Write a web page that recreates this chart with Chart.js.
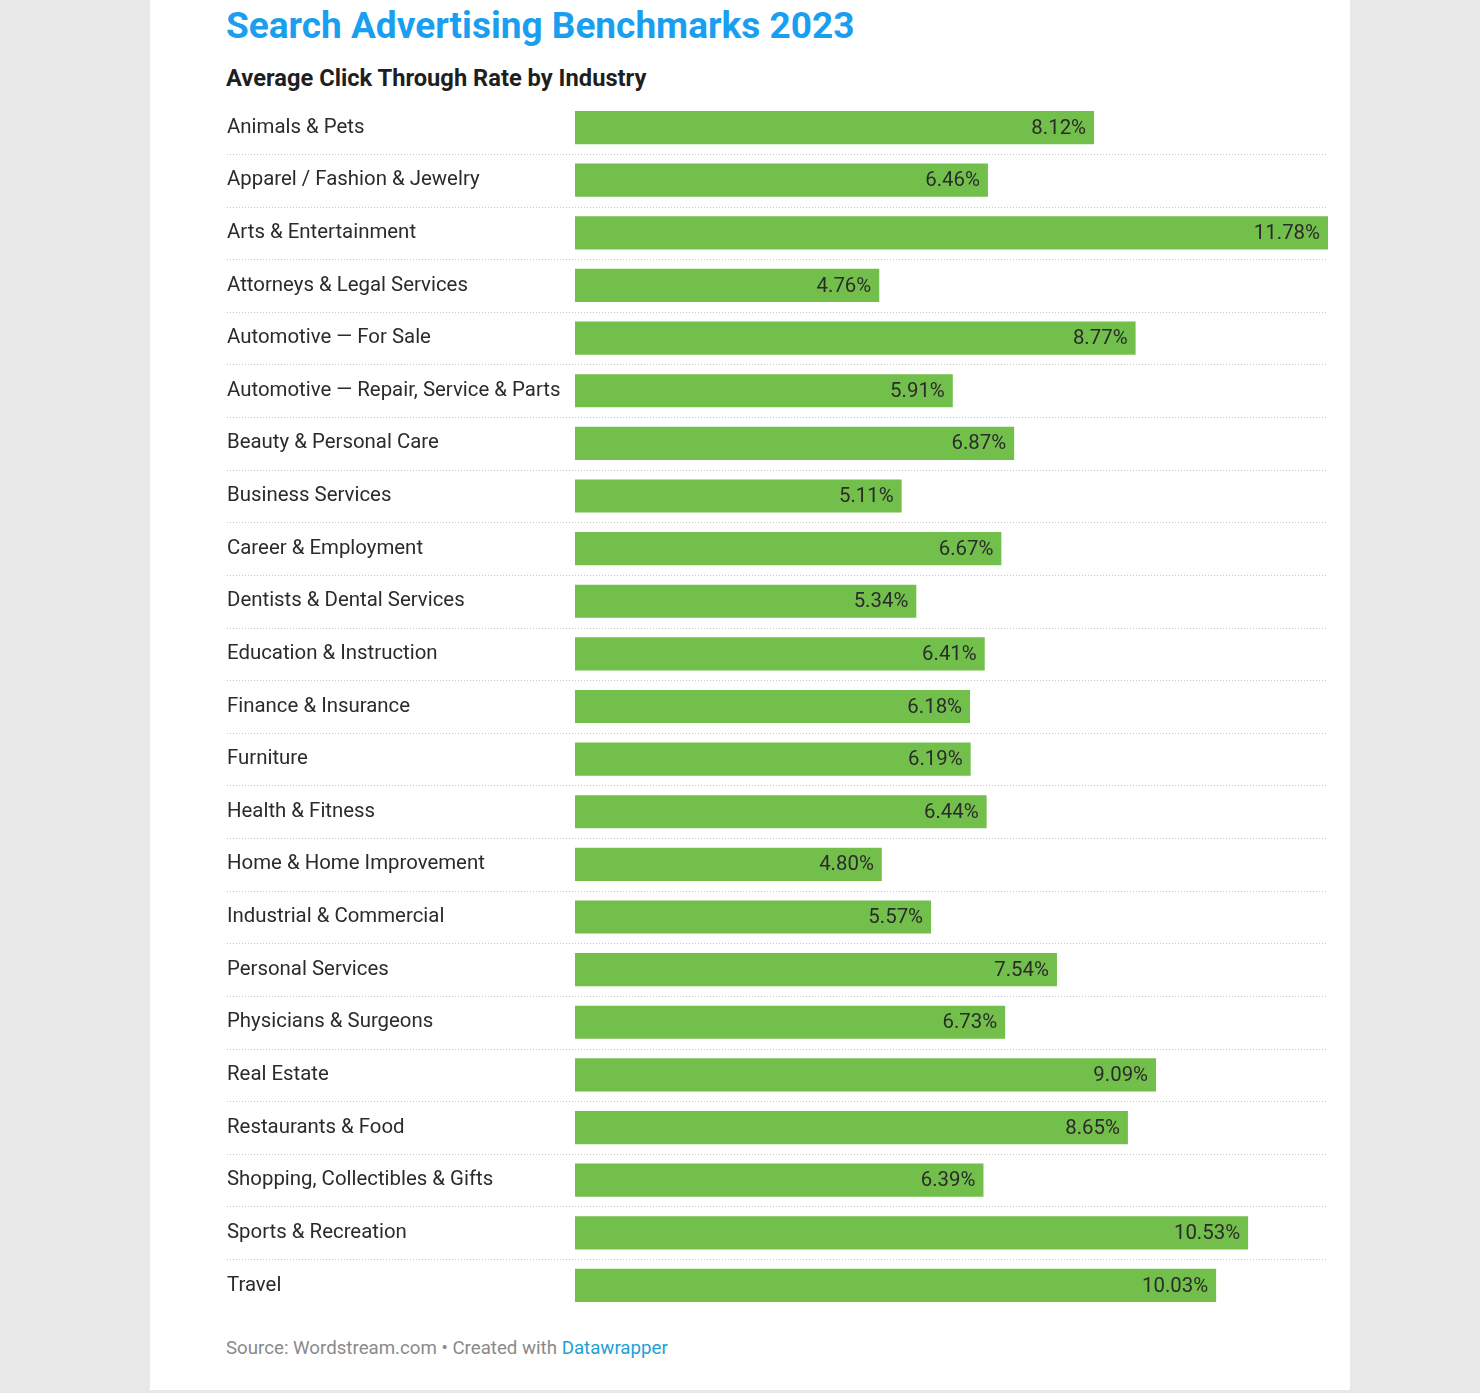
<!DOCTYPE html>
<html>
<head>
<meta charset="utf-8">
<script src="https://cdn.jsdelivr.net/npm/chart.js@4"></script>
<style>
  html, body { margin: 0; padding: 0; }
  body { width: 1480px; height: 1393px; background: #e8e8e8; position: relative; font-family: Roboto, "Noto Sans", sans-serif; }
  #panel { position: absolute; left: 150px; top: 0; width: 1200px; height: 1390px; background: #fff; }
  #title { position: absolute; left: 226px; top: 4px; font-size: 37px; font-weight: 700; color: #1a9ff0; white-space: nowrap; }
  #subtitle { position: absolute; left: 226px; top: 64px; font-size: 23.7px; font-weight: 700; color: #1f1f1f; white-space: nowrap; }
  #chart-wrap { position: absolute; left: 227px; top: 89px; width: 1101px; height: 1235px; }
  #footer { position: absolute; left: 226px; top: 1337px; font-size: 18.7px; color: #8a8a8a; white-space: nowrap; }
  #footer span { color: #1ea2d4; }
</style>
</head>
<body>
<div id="panel"></div>
<div id="title">Search Advertising Benchmarks 2023</div>
<div id="subtitle">Average Click Through Rate by Industry</div>
<div id="chart-wrap"><canvas id="ctrChart"></canvas></div>
<div id="footer">Source: Wordstream.com • Created with <span>Datawrapper</span></div>

<script>
// Data
const industries = [
  'Animals & Pets',
  'Apparel / Fashion & Jewelry',
  'Arts & Entertainment',
  'Attorneys & Legal Services',
  'Automotive — For Sale',
  'Automotive — Repair, Service & Parts',
  'Beauty & Personal Care',
  'Business Services',
  'Career & Employment',
  'Dentists & Dental Services',
  'Education & Instruction',
  'Finance & Insurance',
  'Furniture',
  'Health & Fitness',
  'Home & Home Improvement',
  'Industrial & Commercial',
  'Personal Services',
  'Physicians & Surgeons',
  'Real Estate',
  'Restaurants & Food',
  'Shopping, Collectibles & Gifts',
  'Sports & Recreation',
  'Travel'
];
const ctrValues = [8.12, 6.46, 11.78, 4.76, 8.77, 5.91, 6.87, 5.11, 6.67, 5.34, 6.41, 6.18, 6.19, 6.44, 4.80, 5.57, 7.54, 6.73, 9.09, 8.65, 6.39, 10.53, 10.03];

const labelFont = '20.4px Roboto, "Noto Sans", sans-serif';

// Dotted separators between rows, from the label edge to the right of the plot
const rowSeparators = {
  id: 'rowSeparators',
  beforeDatasetsDraw(chart) {
    const ctx = chart.ctx;
    const yScale = chart.scales.y;
    const right = chart.chartArea.right;
    ctx.save();
    ctx.strokeStyle = '#c8c8c8';
    ctx.lineWidth = 1;
    ctx.setLineDash([1, 2]);
    for (let i = 0; i < industries.length - 1; i++) {
      const y = Math.round((yScale.getPixelForValue(i) + yScale.getPixelForValue(i + 1)) / 2) + 0.5;
      ctx.beginPath();
      ctx.moveTo(0, y);
      ctx.lineTo(right, y);
      ctx.stroke();
    }
    ctx.restore();
  }
};

// Value labels inside bar ends
const valueLabels = {
  id: 'valueLabels',
  afterDatasetsDraw(chart) {
    const ctx = chart.ctx;
    const meta = chart.getDatasetMeta(0);
    ctx.save();
    ctx.font = labelFont;
    ctx.fillStyle = '#2b2b2b';
    ctx.textAlign = 'right';
    ctx.textBaseline = 'middle';
    meta.data.forEach((bar, i) => {
      ctx.fillText(ctrValues[i].toFixed(2) + '%', bar.x - 8, bar.y + 1);
    });
    ctx.restore();
  }
};

new Chart(document.getElementById('ctrChart'), {
  type: 'bar',
  data: {
    labels: industries,
    datasets: [{
      data: ctrValues,
      backgroundColor: '#72c04b',
      borderWidth: 0,
      categoryPercentage: 1,
      barPercentage: 0.63
    }]
  },
  options: {
    indexAxis: 'y',
    responsive: true,
    maintainAspectRatio: false,
    animation: false,
    layout: { padding: 0 },
    plugins: {
      legend: { display: false },
      tooltip: { enabled: false }
    },
    scales: {
      x: {
        display: false,
        min: 0,
        max: 11.78
      },
      y: {
        offset: true,
        border: { display: false },
        grid: { display: false, drawTicks: false },
        ticks: {
          crossAlign: 'far',
          padding: 0,
          color: '#2b2b2b',
          font: { family: 'Roboto, "Noto Sans", sans-serif', size: 20.4 }
        },
        afterFit(scale) { scale.width = 348; }
      }
    }
  },
  plugins: [rowSeparators, valueLabels]
});
</script>
</body>
</html>
